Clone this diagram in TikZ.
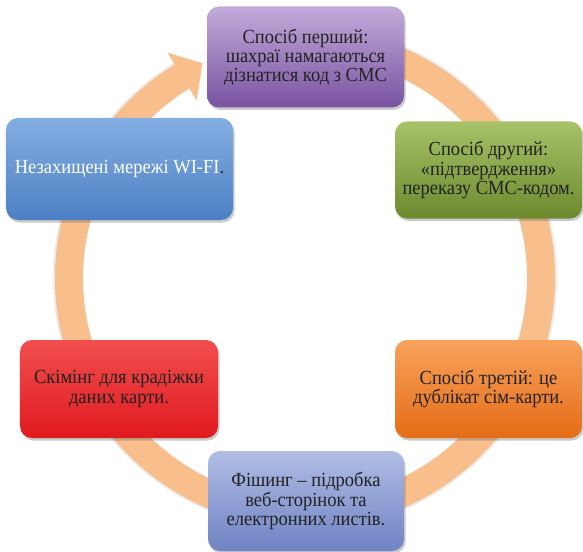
\documentclass[tikz,border=0pt]{standalone}
\usepackage{fontspec}
\setmainfont[FakeStretch=0.925]{Liberation Serif}
\usetikzlibrary{shadows,calc}

\definecolor{ringc}{HTML}{F8BF8C}
\definecolor{txt}{HTML}{222222}
% box palettes: light top, middle, dark bottom
\definecolor{purT}{HTML}{C2ABD9}\definecolor{purM}{HTML}{9677BE}\definecolor{purB}{HTML}{7953A2}
\definecolor{grnT}{HTML}{A7C268}\definecolor{grnM}{HTML}{86A244}\definecolor{grnB}{HTML}{6C8A2D}
\definecolor{orgT}{HTML}{F8A25C}\definecolor{orgM}{HTML}{F07B24}\definecolor{orgB}{HTML}{E56C16}
\definecolor{lavT}{HTML}{B0BDE5}\definecolor{lavM}{HTML}{8798D0}\definecolor{lavB}{HTML}{7083C4}
\definecolor{redT}{HTML}{F24E4E}\definecolor{redM}{HTML}{EE2224}\definecolor{redB}{HTML}{E01A1F}
\definecolor{bluT}{HTML}{84AEE2}\definecolor{bluM}{HTML}{5E92D2}\definecolor{bluB}{HTML}{4C80C3}

\tikzset{
  cbox/.style={rounded corners=12bp, align=center, inner sep=2bp,
    font=\fontsize{20bp}{19.2bp}\selectfont, text=txt,
    drop shadow={shadow xshift=1.5bp, shadow yshift=-2.5bp, opacity=.35, fill=black!60}},
  pal/.style={top color=#1T, middle color=#1M, bottom color=#1B},
  ringline/.style={line width=28bp, draw=ringc},
}

\begin{document}
\begin{tikzpicture}[x=1bp, y=-1bp]
  \useasboundingbox (0,0) rectangle (583,552);

  % circular arrow behind the boxes
  \coordinate (c) at (305,278);
  \draw[line width=30bp, draw=black, opacity=.08]
    ($(c)+(-80:237)$) arc[start angle=-80, end angle=239, radius=237];
  \draw[ringline] ($(c)+(-80:236)$) arc[start angle=-80, end angle=239, radius=236];
  \fill[ringc] ($(c)+(238.6:264)$) -- ($(c)+(244.5:238)$) -- ($(c)+(238.6:208)$) -- cycle;

  % the six boxes
  \node[cbox, pal=pur, minimum width=197bp, minimum height=101bp]
    (p1) at (305.5,57) {Спосіб перший:\\шахраї намагаються\\дізнатися код з СМС};
  \node[cbox, pal=grn, minimum width=187bp, minimum height=97bp]
    (p2) at (488.5,170) {Спосіб другий:\\«підтвердження»\\переказу СМС-кодом.};
  \node[cbox, pal=org, minimum width=187bp, minimum height=98bp]
    (p3) at (488.5,389) {Спосіб третій: це\\дублікат сім-карти.};
  \node[cbox, pal=lav, minimum width=196bp, minimum height=100bp]
    (p4) at (306,501) {Фішинг – підробка\\веб-сторінок та\\електронних листів.};
  \node[cbox, pal=red, minimum width=198bp, minimum height=98bp]
    (p5) at (119,389) {Скімінг для крадіжки\\даних карти.};
  \node[cbox, pal=blu, minimum width=227bp, minimum height=102bp]
    (p6) at (119.5,169) {{\color{white}Незахищені мережі WI-FI}.};
\end{tikzpicture}
\end{document}
